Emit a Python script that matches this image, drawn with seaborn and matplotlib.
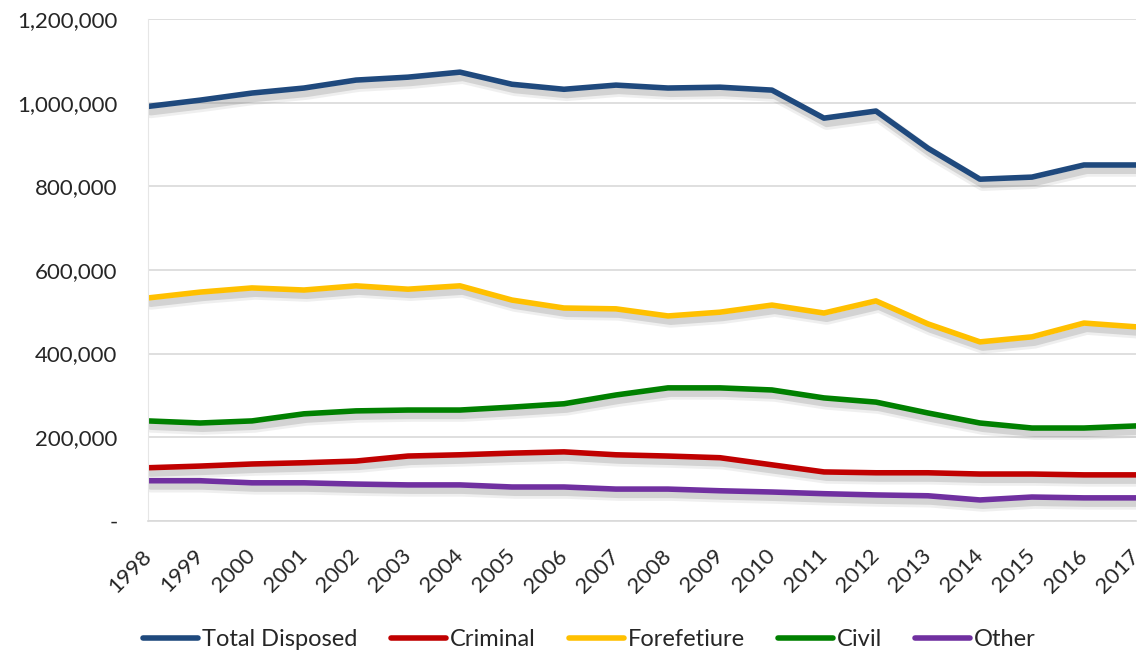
import pandas as pd
import matplotlib.pyplot as plt
import matplotlib.patheffects as pe
import matplotlib.ticker as mticker
from matplotlib.lines import Line2D
import seaborn as sns

years = list(range(1998, 2018))
total_disposed = [991000, 1006000, 1023000, 1035000, 1054000, 1061000, 1073000, 1044000, 1032000, 1042000,
                  1035000, 1037000, 1030000, 963000, 980000, 891000, 817000, 822000, 851000, 851000]
criminal = [127000, 131000, 136000, 139000, 143000, 155000, 158000, 162000, 165000, 158000,
            155000, 151000, 134000, 117000, 115000, 115000, 112000, 112000, 110000, 110000]
forfeiture = [533000, 547000, 557000, 552000, 562000, 554000, 562000, 528000, 509000, 507000,
              490000, 499000, 516000, 497000, 526000, 471000, 428000, 440000, 473000, 464000]
civil = [239000, 234000, 239000, 256000, 263000, 265000, 265000, 272000, 280000, 301000,
         318000, 318000, 313000, 294000, 284000, 258000, 234000, 222000, 222000, 227000]
other = [96000, 96000, 91000, 91000, 88000, 86000, 86000, 81000, 81000, 76000,
         76000, 72000, 69000, 65000, 62000, 60000, 50000, 57000, 55000, 55000]

series_names = ["Total Disposed", "Criminal", "Forefetiure", "Civil", "Other"]
colors = ["#1f497d", "#c00000", "#ffc000", "#008000", "#7030a0"]

df = pd.DataFrame({"Year": years, "Total Disposed": total_disposed, "Criminal": criminal,
                   "Forefetiure": forfeiture, "Civil": civil, "Other": other})
long_df = df.melt(id_vars="Year", var_name="Series", value_name="Cases")

sns.set_style("white")
plt.rcParams['font.family'] = ['Lato', 'DejaVu Sans']

fig = plt.figure(figsize=(11.42, 6.56), dpi=100)
ax = fig.add_axes([0.1296, 0.206, 0.8651, 0.765])

sns.lineplot(data=long_df, x="Year", y="Cases", hue="Series", hue_order=series_names,
             palette=dict(zip(series_names, colors)), linewidth=4.0, ax=ax, legend=False)

# soft drop shadow like the spreadsheet chart
shadow = [pe.SimpleLineShadow(offset=(2, -4), shadow_color="gray", alpha=0.12, linewidth=9),
          pe.SimpleLineShadow(offset=(2, -4), shadow_color="gray", alpha=0.25, linewidth=5),
          pe.Normal()]
for line in ax.lines:
    line.set_path_effects(shadow)
    line.set_solid_capstyle("round")

ax.set_xlim(1998, 2017)
ax.set_ylim(0, 1200000)
ax.set_xticks(years)
ax.set_xticklabels([str(y) for y in years], rotation=45, ha="right", va="center",
                   rotation_mode="anchor", fontsize=16)
ax.set_yticks(range(0, 1200001, 200000))
ax.yaxis.set_major_formatter(mticker.FuncFormatter(lambda v, p: "-" if v == 0 else f"{int(v):,}"))
ax.tick_params(axis="y", labelsize=16, length=8, color="#d9d9d9", pad=14)
ax.tick_params(axis="x", length=8, color="#d9d9d9", pad=15)
ax.yaxis.grid(True, color="#d9d9d9", linewidth=1.2)
for side in ["top", "right"]:
    ax.spines[side].set_visible(False)
ax.spines["left"].set_color("#e6e6e6")
ax.spines["bottom"].set_color("#d9d9d9")
ax.spines["bottom"].set_linewidth(1.2)
ax.set_xlabel("")
ax.set_ylabel("")

handles = [Line2D([], [], color=c, linewidth=4.0, solid_capstyle="round") for c in colors]
ax.legend(handles, series_names, loc="center", bbox_to_anchor=(0.447, -0.237), ncol=5, frameon=False,
          fontsize=17, handlelength=2.33, columnspacing=1.4, handletextpad=0.17)

fig.savefig("out.png", dpi=100)
